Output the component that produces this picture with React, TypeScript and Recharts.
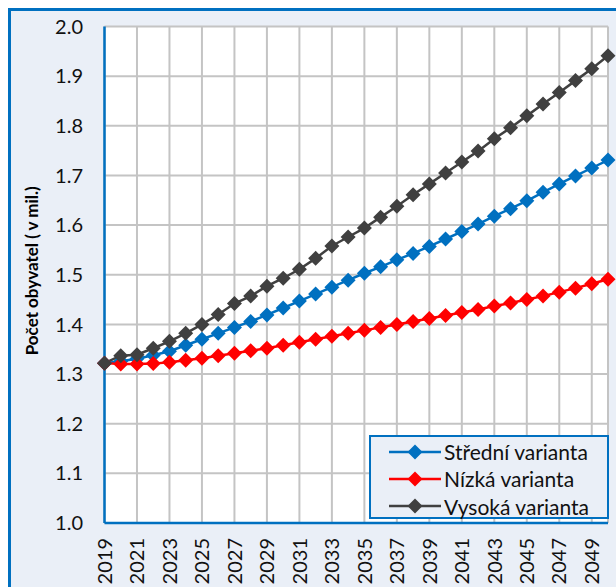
import React from "react";
import {
  LineChart,
  Line,
  XAxis,
  YAxis,
  CartesianGrid,
  Legend,
} from "recharts";

const years = [
  "2019", "2020", "2021", "2022", "2023", "2024", "2025", "2026",
  "2027", "2028", "2029", "2030", "2031", "2032", "2033", "2034",
  "2035", "2036", "2037", "2038", "2039", "2040", "2041", "2042",
  "2043", "2044", "2045", "2046", "2047", "2048", "2049", "2050",
];

// střední varianta
const stredni = [
  1.322, 1.326, 1.331, 1.338, 1.346, 1.358, 1.370, 1.382,
  1.394, 1.406, 1.419, 1.433, 1.447, 1.461, 1.475, 1.489,
  1.503, 1.516, 1.530, 1.543, 1.557, 1.572, 1.587, 1.602,
  1.618, 1.633, 1.649, 1.666, 1.683, 1.699, 1.715, 1.731,
];

// nízká varianta
const nizka = [
  1.322, 1.320, 1.320, 1.321, 1.324, 1.328, 1.332, 1.337,
  1.342, 1.347, 1.352, 1.358, 1.364, 1.370, 1.376, 1.382,
  1.388, 1.394, 1.400, 1.406, 1.412, 1.418, 1.424, 1.430,
  1.437, 1.443, 1.450, 1.457, 1.465, 1.473, 1.482, 1.491,
];

// vysoká varianta
const vysoka = [
  1.322, 1.337, 1.339, 1.352, 1.366, 1.382, 1.400, 1.420,
  1.442, 1.457, 1.477, 1.493, 1.511, 1.533, 1.558, 1.576,
  1.594, 1.616, 1.638, 1.661, 1.683, 1.705, 1.727, 1.749,
  1.774, 1.796, 1.820, 1.844, 1.867, 1.891, 1.915, 1.941,
];

const seriesNames = ["Střední varianta", "Nízká varianta", "Vysoká varianta"];

const yTicks = [1.0, 1.1, 1.2, 1.3, 1.4, 1.5, 1.6, 1.7, 1.8, 1.9, 2.0];

const data = years.map((y, i) => ({
  year: y,
  stredni: stredni[i],
  nizka: nizka[i],
  vysoka: vysoka[i],
}));

const FONT = "Lato, 'Open Sans', sans-serif";
const BLUE = "#0070C0";

const Diamond = ({ cx, cy, color, r = 7.5 }: any) => {
  if (cx == null || cy == null) return null;
  return (
    <polygon
      points={`${cx},${cy - r} ${cx + r},${cy} ${cx},${cy + r} ${cx - r},${cy}`}
      fill={color}
      stroke="none"
    />
  );
};

const makeDot = (color: string) => (props: any) => (
  <Diamond key={`dot-${color}-${props.index}`} cx={props.cx} cy={props.cy} color={color} />
);

const XTick = ({ x, y, payload }: any) => (
  <text
    transform={`translate(${x},${y}) rotate(-90)`}
    textAnchor="end"
    dy="0.36em"
    fontSize={20}
    fontFamily={FONT}
    fill="#111"
  >
    {payload.value}
  </text>
);

const YTitle = ({ viewBox }: any) => {
  const cy = viewBox.y + viewBox.height / 2;
  return (
    <text
      transform={`translate(32,${cy - 4}) rotate(-90)`}
      textAnchor="middle"
      dy="0.35em"
      fontSize={17}
      fontWeight="bold"
      fontFamily={FONT}
      fill="#000"
    >
      Počet obyvatel ( v mil.)
    </text>
  );
};

const renderLegend = (props: any) => {
  const payload = [...(props.payload || [])].sort(
    (a: any, b: any) => seriesNames.indexOf(a.value) - seriesNames.indexOf(b.value)
  );
  return (
    <div
      style={{
        boxSizing: "border-box",
        width: 240,
        height: 84,
        border: `2.5px solid ${BLUE}`,
        background: "#EAEFF7",
        paddingTop: 1,
        fontFamily: FONT,
      }}
    >
      {payload.map((entry: any) => (
        <div
          key={entry.value}
          style={{ display: "flex", alignItems: "center", height: 27.3, paddingLeft: 18 }}
        >
          <svg width={52} height={20}>
            <line x1={0} y1={10} x2={52} y2={10} stroke={entry.color} strokeWidth={2.5} />
            <Diamond cx={26} cy={10} color={entry.color} />
          </svg>
          <span style={{ marginLeft: 3, fontSize: 21, color: "#111", lineHeight: 1 }}>
            {entry.value}
          </span>
        </div>
      ))}
    </div>
  );
};

export default function App() {
  return (
    <div style={{ position: "absolute", left: 0, top: 0, width: 616, height: 587, overflow: "hidden" }}>
      <div
        style={{
          position: "absolute",
          left: 8,
          top: 8,
          width: 700,
          height: 700,
          background: "#EAEFF7",
          borderLeft: `3px solid ${BLUE}`,
          borderTop: `3px solid ${BLUE}`,
        }}
      />
      <div style={{ position: "absolute", left: 0, top: 0 }}>
        <LineChart
          width={616}
          height={587}
          data={data}
          margin={{ top: 26.5, right: 8, bottom: 0, left: 0 }}
        >
          <CartesianGrid stroke="#C4C4C4" strokeWidth={2} fill="#fff" />
          <XAxis
            dataKey="year"
            interval={1}
            height={64}
            tickSize={0}
            tickMargin={15}
            tickLine={false}
            axisLine={{ stroke: BLUE, strokeWidth: 2.5 }}
            tick={<XTick />}
          />
          <XAxis
            xAxisId="top"
            dataKey="year"
            orientation="top"
            height={0}
            tick={false}
            tickLine={false}
            axisLine={{ stroke: BLUE, strokeWidth: 2.5 }}
          />
          <YAxis
            domain={[1, 2]}
            ticks={yTicks}
            width={104.5}
            tickSize={0}
            tickMargin={21.5}
            tickLine={false}
            axisLine={{ stroke: BLUE, strokeWidth: 2.5 }}
            tickFormatter={(v: number) => v.toFixed(1)}
            tick={{ fontSize: 20, fill: "#111", fontFamily: FONT }}
            label={<YTitle />}
          />
          <YAxis
            yAxisId="right"
            orientation="right"
            domain={[1, 2]}
            ticks={yTicks}
            width={0}
            tick={false}
            tickLine={false}
            axisLine={{ stroke: BLUE, strokeWidth: 2.5 }}
          />
          <Legend
            layout="vertical"
            align="center"
            verticalAlign="middle"
            content={renderLegend}
            wrapperStyle={{ left: 369, top: 435, width: 240, height: 84 }}
          />
          <Line
            dataKey="stredni"
            name={seriesNames[0]}
            stroke={BLUE}
            strokeWidth={2.5}
            dot={makeDot(BLUE)}
            activeDot={false}
            isAnimationActive={false}
          />
          <Line
            dataKey="nizka"
            name={seriesNames[1]}
            stroke="#FF0000"
            strokeWidth={2.5}
            dot={makeDot("#FF0000")}
            activeDot={false}
            isAnimationActive={false}
          />
          <Line
            dataKey="vysoka"
            name={seriesNames[2]}
            stroke="#404040"
            strokeWidth={2.5}
            dot={makeDot("#404040")}
            activeDot={false}
            isAnimationActive={false}
          />
        </LineChart>
      </div>
    </div>
  );
}
